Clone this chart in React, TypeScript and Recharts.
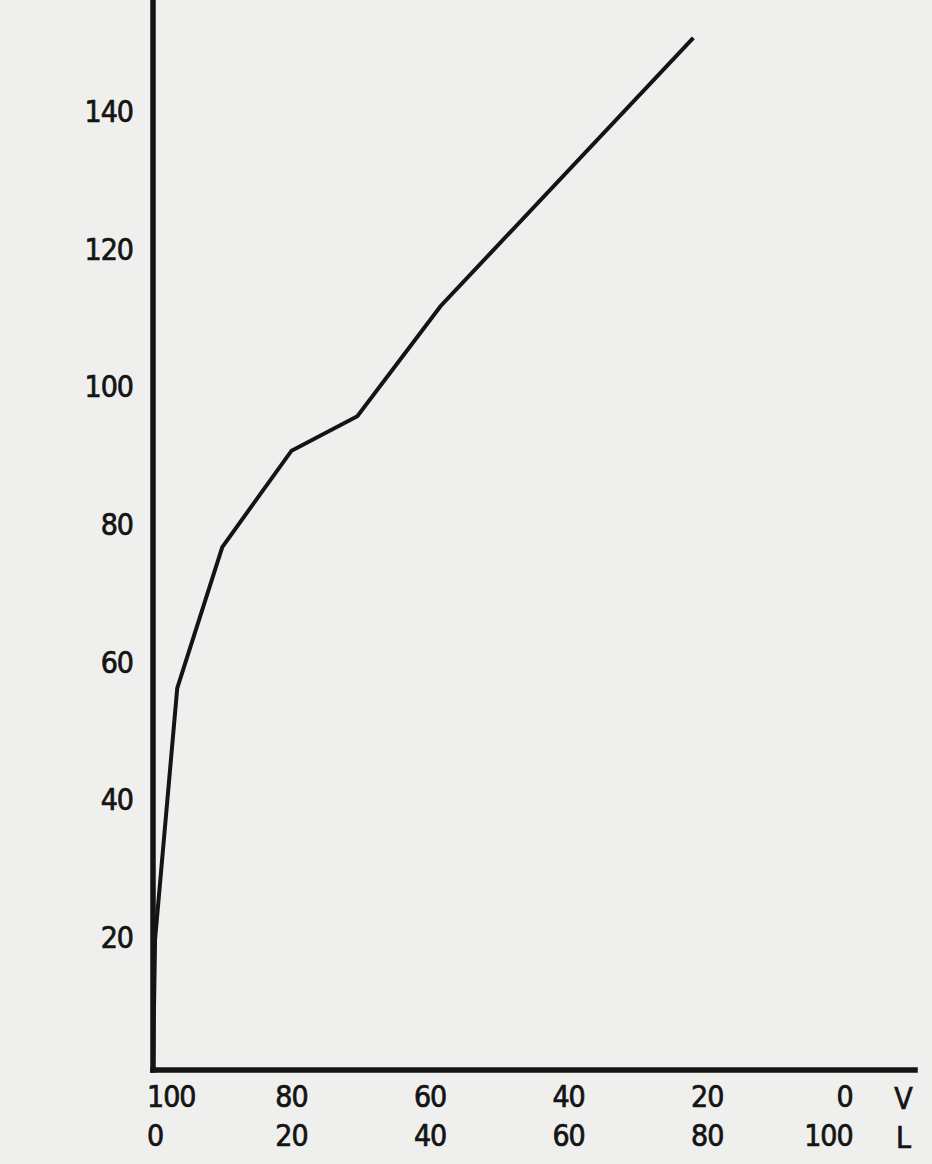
import { LineChart, Line, XAxis, YAxis, Label } from "recharts";

// share of L (the lower row); V = 100 - L
const shareL = [0, 0.3, 3.5, 10, 20, 29.5, 41.5, 78];
const measured = [0, 19, 55.5, 76, 90, 95, 111, 150];
const yTicks = [20, 40, 60, 80, 100, 120, 140];
const xTicks = [0, 20, 40, 60, 80, 100];

const data = shareL.map((l, i) => ({ l, v: measured[i] }));

const INK = "#141414";
const PAPER = "#eff0ee";
const FONT = "'Liberation Sans Narrow', 'DejaVu Sans Condensed', Roboto, sans-serif";

const textStyle = {
  fontFamily: FONT,
  fontSize: 30,
  fill: INK,
  stroke: INK,
  strokeWidth: 0.7,
  letterSpacing: -1,
};

function YTick({ x, y, payload }: any) {
  return (
    <text x={x - 20} y={y + 5} textAnchor="end" dominantBaseline="central" style={textStyle}>
      {payload.value}
    </text>
  );
}

function XTick({ x, y, payload }: any) {
  const l = payload.value as number;
  const anchor = l === 0 ? "start" : l === 100 ? "end" : "middle";
  const tx = x + (l === 0 ? -6 : l === 100 ? 7 : 0);
  return (
    <g>
      <text x={tx} y={y + 26} textAnchor={anchor} dominantBaseline="central" style={textStyle}>
        {100 - l}
      </text>
      <text x={tx} y={y + 65} textAnchor={anchor} dominantBaseline="central" style={textStyle}>
        {l}
      </text>
    </g>
  );
}

function VLLabel({ viewBox }: any) {
  const cx = viewBox.x + viewBox.width - 12;
  return (
    <g>
      <text x={cx} y={viewBox.y + 28} textAnchor="middle" dominantBaseline="central" style={textStyle}>
        V
      </text>
      <text x={cx} y={viewBox.y + 67} textAnchor="middle" dominantBaseline="central" style={textStyle}>
        L
      </text>
    </g>
  );
}

export default function App() {
  return (
    <div style={{ position: "absolute", left: 0, top: 0, width: 932, height: 1164, background: PAPER }}>
      <LineChart
        width={932}
        height={1164}
        data={data}
        margin={{ top: 0, right: 17, left: 93, bottom: 34 }}
      >
        <XAxis
          type="number"
          dataKey="l"
          domain={[0, 110]}
          ticks={xTicks}
          allowDataOverflow
          height={60}
          tickLine={false}
          tickSize={0}
          tickMargin={0}
          axisLine={{ stroke: INK, strokeWidth: 5.5, strokeLinecap: "square" }}
          tick={<XTick />}
        >
          <Label content={<VLLabel />} />
        </XAxis>
        <YAxis
          type="number"
          domain={[0, 155.5]}
          ticks={yTicks}
          allowDataOverflow
          width={60}
          tickLine={false}
          tickSize={0}
          tickMargin={0}
          axisLine={{ stroke: INK, strokeWidth: 5.5, strokeLinecap: "square" }}
          tick={<YTick />}
        />
        <Line
          type="linear"
          dataKey="v"
          stroke={INK}
          strokeWidth={4}
          dot={false}
          isAnimationActive={false}
        />
      </LineChart>
    </div>
  );
}
